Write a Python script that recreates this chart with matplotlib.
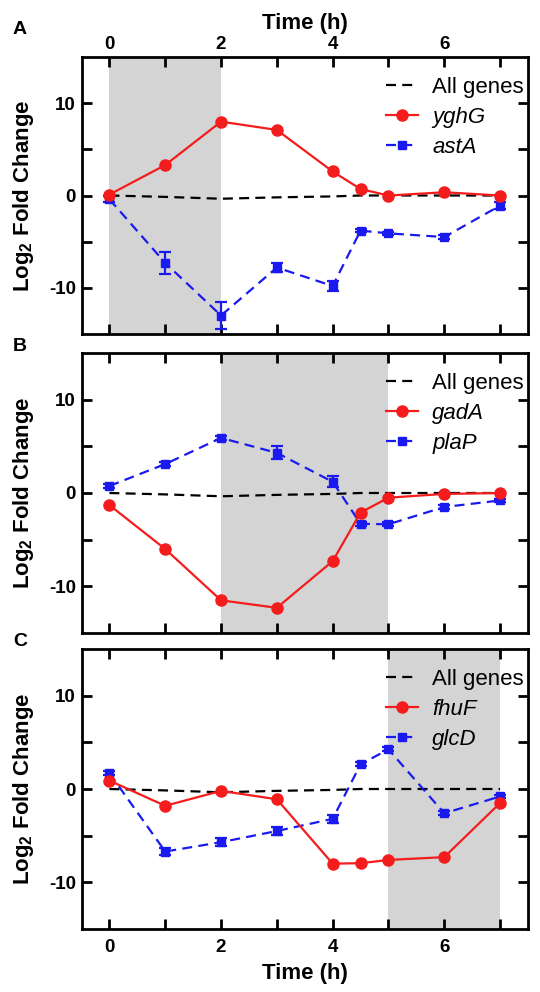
import matplotlib
matplotlib.use("Agg")
import matplotlib.pyplot as plt
from matplotlib.ticker import FixedLocator

plt.rcParams["font.family"] = ["Liberation Sans", "DejaVu Sans"]
plt.rcParams["font.weight"] = "bold"
plt.rcParams["axes.unicode_minus"] = False
plt.rcParams["mathtext.fontset"] = "custom"
plt.rcParams["mathtext.bf"] = "Liberation Sans:bold"
plt.rcParams["mathtext.rm"] = "Liberation Sans:bold"
plt.rcParams["mathtext.default"] = "bf"

RED, BLUE, SHADE = "#f41c1c", "#1a1af0", "#d4d4d4"

hours = [0, 1, 2, 3, 4, 4.5, 5, 6, 7]
all_genes = [0.0, -0.15, -0.35, -0.2, -0.1, 0.0, 0.0, 0.0, 0.0]

yghG = [0.1, 3.3, 8.0, 7.1, 2.6, 0.7, 0.0, 0.35, 0.0]
astA = [-0.4, -7.3, -13.0, -7.8, -9.8, -3.8, -4.1, -4.5, -1.1]
astA_err = [0.3, 1.2, 1.5, 0.5, 0.5, 0.2, 0.2, 0.2, 0.4]

gadA = [-1.3, -6.0, -11.5, -12.3, -7.3, -2.1, -0.5, -0.1, 0.0]
plaP = [0.75, 3.1, 5.9, 4.3, 1.2, -3.3, -3.35, -1.5, -0.8]
plaP_err = [0.2, 0.2, 0.2, 0.7, 0.6, 0.2, 0.2, 0.2, 0.2]

fhuF = [0.9, -1.8, -0.2, -1.1, -8.0, -7.95, -7.6, -7.3, -1.5]
glcD = [1.7, -6.7, -5.7, -4.5, -3.2, 2.65, 4.25, -2.6, -0.8]
glcD_err = [0.2, 0.4, 0.4, 0.4, 0.4, 0.2, 0.2, 0.2, 0.2]

panels = [
    ("A", (0, 2), "yghG", yghG, "astA", astA, astA_err),
    ("B", (2, 5), "gadA", gadA, "plaP", plaP, plaP_err),
    ("C", (5, 7), "fhuF", fhuF, "glcD", glcD, glcD_err),
]

W, H = 540, 992
fig = plt.figure(figsize=(W / 100, H / 100), dpi=100)
# axes boxes in pixels (top, bottom)
boxes = [(57, 334), (353, 633), (649, 929)]
letter_y = [30, 346, 642]
left, right = 81.5, 528
DASH = (0, (4.5, 2.8))

for k, (letter, shade, rname, rvals, bname, bvals, berr) in enumerate(panels):
    top, bot = boxes[k]
    ax = fig.add_axes([left / W, 1 - bot / H, (right - left) / W, (bot - top) / H])
    ax.axvspan(*shade, color=SHADE, lw=0, zorder=0)

    h_all, = ax.plot(hours, all_genes, color="black", ls=DASH, lw=1.6, zorder=2)
    ax.errorbar(hours, bvals, yerr=berr, fmt="none", ecolor=BLUE,
                elinewidth=1.6, capsize=4, capthick=1.6, zorder=3)
    h_blue, = ax.plot(hours, bvals, color=BLUE, ls=DASH, lw=1.6, marker="s",
                      ms=6, zorder=3)
    h_red, = ax.plot(hours, rvals, color=RED, lw=1.6, marker="o", ms=8, zorder=4)

    ax.set_xlim(-0.5, 7.5)
    ax.set_ylim(-15, 15)
    ax.xaxis.set_major_locator(FixedLocator([0, 2, 4, 6]))
    ax.xaxis.set_minor_locator(FixedLocator([1, 3, 5, 7]))
    ax.yaxis.set_major_locator(FixedLocator([-10, 0, 10]))
    ax.yaxis.set_minor_locator(FixedLocator([-5, 5]))
    ax.tick_params(which="both", direction="in", length=7.5, width=2,
                   top=True, right=True, labelsize=13.5)
    ax.tick_params(axis="y", pad=4)
    for sp in ax.spines.values():
        sp.set_linewidth(2)

    if k == 0:
        ax.tick_params(axis="x", labeltop=True, labelbottom=False, pad=3)
        ax.xaxis.set_label_position("top")
        ax.set_xlabel("Time (h)", fontsize=16, fontweight="bold", labelpad=5)
    elif k == 2:
        ax.tick_params(axis="x", pad=7)
        ax.set_xlabel("Time (h)", fontsize=16, fontweight="bold", labelpad=5)
    else:
        ax.tick_params(axis="x", labelbottom=False)

    ax.set_ylabel(r"Log$_{2}$ Fold Change", fontsize=16, fontweight="bold", labelpad=9)

    leg = ax.legend([h_all, h_red, h_blue], ["All genes", rname, bname],
                    loc="upper right", bbox_to_anchor=(1.036, 1.0), frameon=False,
                    fontsize=16, handlelength=1.45, handletextpad=0.65,
                    labelspacing=0.4, borderaxespad=0.5)
    for i, t in enumerate(leg.get_texts()):
        t.set_fontweight("normal")
        if i > 0:
            t.set_fontstyle("italic")

    fig.text(20 / W, 1 - letter_y[k] / H, letter, fontsize=14, fontweight="bold",
             ha="center", va="center")

fig.savefig("out.png", dpi=100)
